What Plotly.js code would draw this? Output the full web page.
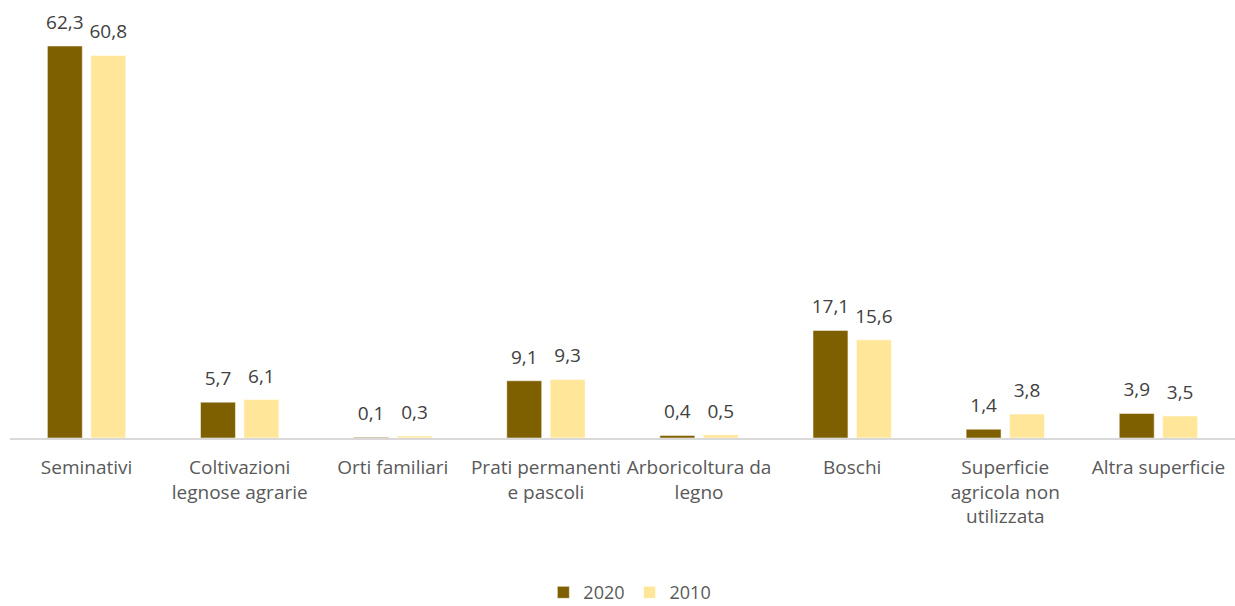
<!DOCTYPE html>
<html>
<head>
<meta charset="utf-8">
<script src="https://cdn.plot.ly/plotly-3.0.1.min.js"></script>
<style>html,body{margin:0;padding:0;background:#fff;}#chart{width:1235px;height:606px;}</style>
</head>
<body>
<div id="chart"></div>
<script>
const categories = [
  "Seminativi",
  "Coltivazioni<br>legnose agrarie",
  "Orti familiari",
  "Prati permanenti<br>e pascoli",
  "Arboricoltura da<br>legno",
  "Boschi",
  "Superficie<br>agricola non<br>utilizzata",
  "Altra superficie"
];
const seriesNames = ["2020", "2010"];
const values2020 = [62.3, 5.7, 0.1, 9.1, 0.4, 17.1, 1.4, 3.9];
const values2010 = [60.8, 6.1, 0.3, 9.3, 0.5, 15.6, 3.8, 3.5];
const colors = ['#7F6000', '#FFE699'];

const font = "'Open Sans', sans-serif";
const series = [values2020, values2010];

const traces = [];
series.forEach((vals, i) => {
  traces.push({
    type: 'bar', name: seriesNames[i], x: categories, y: vals,
    offsetgroup: String(i), alignmentgroup: 'a',
    marker: {color: colors[i], line: {color: 'rgba(255,255,255,0.5)', width: 1}},
    hoverinfo: 'none'
  });
});
series.forEach((vals, i) => {
  traces.push({
    type: 'scatter', mode: 'markers+text', x: categories, y: vals,
    offsetgroup: String(i), alignmentgroup: 'a',
    text: vals.map(v => v.toFixed(1).replace('.', ',')),
    textposition: 'top center', cliponaxis: false,
    marker: {size: 18, opacity: 0},
    textfont: {family: font, size: 19, color: '#404040'},
    showlegend: false, hoverinfo: 'none'
  });
});

const layout = {
  width: 1235, height: 606,
  margin: {l: 10, r: 0, t: 29, b: 168},
  paper_bgcolor: '#fff', plot_bgcolor: '#fff',
  separators: ',.',
  barmode: 'group',
  scattermode: 'group',
  bargap: 0.433,
  bargroupgap: 0.195,
  font: {family: font, size: 19, color: '#595959'},
  xaxis: {
    type: 'category',
    showline: true, linecolor: '#d9d9d9', linewidth: 2,
    ticks: '', showgrid: false,
    tickfont: {family: font, size: 19, color: '#595959'},
    ticklabelstandoff: 11
  },
  yaxis: {
    range: [0, 65], visible: false, showgrid: false, zeroline: false
  },
  showlegend: true,
  legend: {
    orientation: 'h', x: 0.51, xanchor: 'center', xref: 'container',
    y: 0.022, yanchor: 'middle', yref: 'container',
    font: {family: font, size: 18, color: '#595959'},
    traceorder: 'normal', itemwidth: 30
  }
};

Plotly.newPlot('chart', traces, layout, {staticPlot: true});
</script>
</body>
</html>
